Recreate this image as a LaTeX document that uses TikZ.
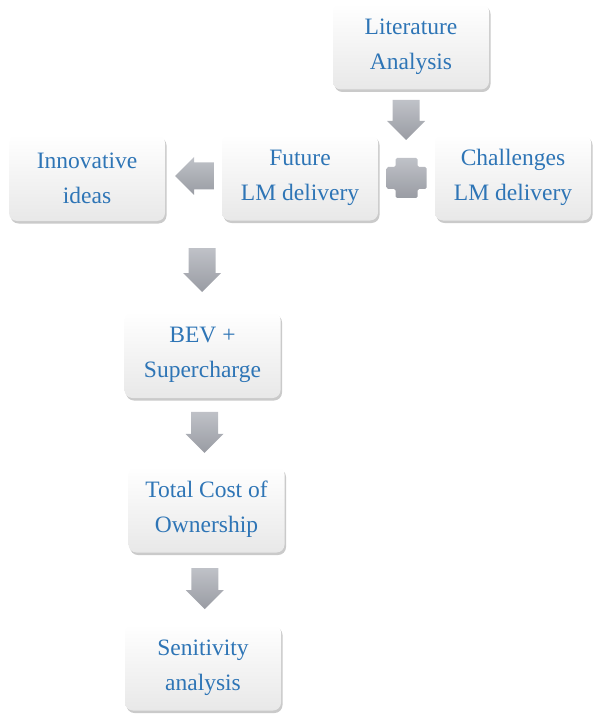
\documentclass[tikz,border=0pt]{standalone}
\usepackage{fontspec}
\setmainfont{Liberation Serif}
\definecolor{txtblau}{RGB}{46,117,182}
\definecolor{pfeilgrau}{RGB}{170,173,181}
\usetikzlibrary{shadows, calc}

\tikzset{
  pics/blockpfeil/.style={code={
    \shade[top color=pfeilgrau!75, bottom color=pfeilgrau!90!black]
      (-13.5,-#1) -- (13.5,-#1) -- (13.5,{#1-19}) -- (19,{#1-19})
      -- (0,#1) -- (-19,{#1-19}) -- (-13.5,{#1-19}) -- cycle;
  }}
}

\begin{document}
\begin{tikzpicture}[
    x=1pt, y=-1pt,
    box/.style={rectangle, rounded corners=8pt, draw=none,
                top color=white, bottom color=black!9,
                minimum width=156pt, minimum height=86pt,
                text centered, align=center, text=txtblau,
                font=\fontsize{23.5}{35}\selectfont,
                drop shadow={shadow xshift=1.5pt, shadow yshift=-2.5pt,
                             opacity=0.35, fill=black!60}}
  ]
  \useasboundingbox (0,0) rectangle (592,719);

  % Kaesten
  \node[box] (lit)  at (411,46.5)  {Literature\\ Analysis};
  \node[box] (fut)  at (300,177.5) {Future\\ LM delivery};
  \node[box] (chal) at (513,177.5) {Challenges\\ LM delivery};
  \node[box] (inno) at (87,178)    {Innovative\\ ideas};
  \node[box] (bev)  at (202.5,355) {BEV +\\ Supercharge};
  \node[box] (tco)  at (206.5,509.5) {Total Cost of\\ Ownership};
  \node[box] (sens) at (203,667.5) {Senitivity\\ analysis};

  % Blockpfeile
  \pic (a1) at (406,120) {blockpfeil=20};
  \pic[rotate=-90] (a2) at (194.5,176) {blockpfeil=19.5};
  \pic (a3) at (202,270) {blockpfeil=22};
  \pic (a4) at ($(bev.south)!0.5!(tco.north)$) {blockpfeil=20.5};
  \pic (a5) at ($(tco.south)!0.5!(sens.north)$) {blockpfeil=20.5};

  % Plus zwischen Future und Challenges
  \coordinate (plus) at (406.5,178);
  \shade[top color=pfeilgrau!75, bottom color=pfeilgrau!90!black,
         rounded corners=1.5pt]
    ($(plus)+(-11,-20)$) -- ($(plus)+(11,-20)$) -- ($(plus)+(11,-11)$)
    -- ($(plus)+(20,-11)$) -- ($(plus)+(20,11)$) -- ($(plus)+(11,11)$)
    -- ($(plus)+(11,20)$) -- ($(plus)+(-11,20)$) -- ($(plus)+(-11,11)$)
    -- ($(plus)+(-20,11)$) -- ($(plus)+(-20,-11)$) -- ($(plus)+(-11,-11)$)
    -- cycle;
\end{tikzpicture}
\end{document}
